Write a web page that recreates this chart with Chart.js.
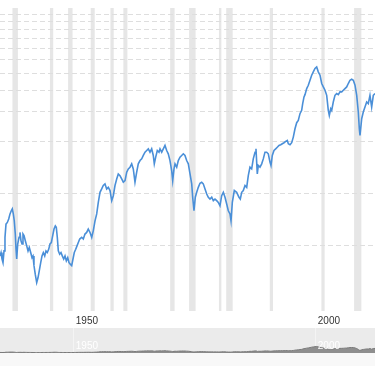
<!DOCTYPE html>
<html>
<head>
<meta charset="utf-8">
<script src="https://cdn.jsdelivr.net/npm/chart.js@4.4.1/dist/chart.umd.min.js"></script>
<style>
  html, body { margin: 0; padding: 0; background: #fff; }
  #main { position: absolute; left: 0; top: 0; width: 375px; height: 333px; z-index: 1; }
  #nav { position: absolute; left: 0; top: 328px; width: 375px; height: 25px; background: #ebebeb; z-index: 2; }
  #scroll { position: absolute; left: 0; top: 353px; width: 375px; height: 13px; background: #f8f8f8; z-index: 2; }
</style>
</head>
<body>
<div id="main"><canvas id="priceChart"></canvas></div>
<div id="nav"><canvas id="navChart"></canvas></div>
<div id="scroll"></div>
<script>
// S&P 500, inflation adjusted
const years = [
  1934.76,1934.97,1935.17,1935.38,1935.59,1935.79,1936.0,1936.27,1936.56,1936.83,
  1937.09,1937.3,1937.51,1937.71,1937.92,1938.07,1938.21,1938.42,1938.69,1938.89,
  1939.1,1939.31,1939.51,1939.72,1939.99,1940.28,1940.55,1940.81,1941.1,1941.37,
  1941.58,1941.78,1942.05,1942.34,1942.61,1942.88,1943.17,1943.44,1943.71,1944.0,
  1944.26,1944.53,1944.82,1945.09,1945.36,1945.65,1945.92,1946.19,1946.39,1946.6,
  1946.81,1947.09,1947.36,1947.63,1947.92,1948.19,1948.46,1948.75,1949.02,1949.28,
  1949.57,1949.84,1950.11,1950.4,1950.67,1950.94,1951.23,1951.64,1951.97,1952.32,
  1952.67,1953.0,1953.36,1953.71,1954.04,1954.39,1954.74,1955.07,1955.42,1955.77,
  1956.1,1956.45,1956.8,1957.14,1957.49,1957.84,1958.17,1958.52,1958.87,1959.2,
  1959.55,1959.9,1960.24,1960.59,1960.94,1961.27,1961.62,1961.97,1962.3,1962.65,
  1963.0,1963.33,1963.69,1964.04,1964.37,1964.72,1965.07,1965.4,1965.75,1966.1,
  1966.43,1966.64,1966.93,1967.26,1967.61,1967.82,1968.17,1968.5,1968.85,1969.2,
  1969.53,1969.88,1970.23,1970.44,1970.71,1970.92,1971.27,1971.6,1971.95,1972.3,
  1972.63,1972.98,1973.33,1973.67,1974.02,1974.37,1974.57,1974.84,1975.11,1975.4,
  1975.73,1976.08,1976.43,1976.76,1977.12,1977.47,1977.8,1978.15,1978.5,1978.83,
  1979.18,1979.53,1979.86,1980.21,1980.56,1980.9,1981.25,1981.6,1981.93,1982.28,
  1982.49,1982.76,1983.17,1983.66,1984.14,1984.41,1984.7,1985.03,1985.38,1985.73,
  1986.06,1986.41,1986.76,1987.09,1987.45,1987.65,1987.92,1988.13,1988.48,1988.83,
  1989.16,1989.51,1989.86,1990.19,1990.54,1990.75,1991.02,1991.37,1991.72,1992.05,
  1992.4,1992.76,1993.09,1993.44,1993.79,1994.12,1994.33,1994.68,1995.03,1995.36,
  1995.71,1996.06,1996.39,1996.74,1997.09,1997.3,1997.57,1997.78,1998.13,1998.46,
  1998.81,1999.16,1999.49,1999.84,2000.19,2000.52,2000.88,2001.23,2001.56,2001.91,
  2002.26,2002.59,2002.8,2003.09,2003.29,2003.62,2003.97,2004.32,2004.66,2005.01,
  2005.36,2005.69,2006.04,2006.39,2006.72,2007.07,2007.42,2007.76,2008.11,2008.46,
  2008.79,2009.0,2009.14,2009.49,2009.82,2010.17,2010.52,2010.85,2011.2,2011.55,
  2011.89,2012.24
];
const realPrice = [
  173,181,166,158,185,222,265,271,284,304,
  317,325,304,277,232,189,166,203,222,237,
  212,203,232,227,212,198,185,194,181,169,
  173,152,135,121,129,142,158,173,181,173,
  185,181,189,203,207,227,248,259,254,222,
  185,177,181,173,166,173,162,169,158,155,
  152,166,181,189,198,207,217,222,217,232,
  237,248,237,222,243,277,304,355,406,425,
  445,455,425,434,416,363,388,445,486,520,
  508,486,465,475,532,556,569,595,556,465,
  532,595,622,636,666,696,712,728,696,728,
  666,595,651,712,696,728,696,728,762,712,
  681,622,544,475,556,595,569,622,651,666,
  681,666,622,595,520,455,380,317,380,406,
  434,459,465,455,425,397,380,371,380,363,
  371,363,355,339,388,406,380,347,317,304,
  277,355,416,406,380,371,406,416,445,434,
  508,569,556,636,696,728,520,582,569,595,
  636,696,696,681,609,582,666,712,728,744,
  762,769,779,790,804,815,779,769,790,852,
  953,1034,1066,1167,1220,1335,1460,1507,1634,1709,
  1828,1955,2045,2139,2186,2045,1955,1749,1671,1598,
  1493,1220,1140,1248,1220,1365,1493,1528,1507,1563,
  1563,1598,1634,1671,1749,1828,1853,1828,1709,1493,
  1193,953,871,1090,1193,1275,1365,1335,1493,1275,
  1493,1528
];

// recessions (shaded)
const recessionStart = [1937.33,1945.08,1948.83,1953.5,1957.58,1960.25,1969.92,1973.83,1980.0,1981.5,1990.5,2001.17,2007.92];
const recessionEnd   = [1938.46,1945.75,1949.75,1954.33,1958.25,1961.08,1970.83,1975.17,1980.5,1982.83,1991.17,2001.83,2009.42];

const yearTicks = [1950, 2000];
const gridValues = [200, 400, 800, 1200, 1600, 2000, 2400, 2800, 3200, 3600, 4000, 4400];

const xMin = 1934.76, xMax = 2012.24;
const FONT = '"Liberation Sans", Arial, sans-serif';

const points = years.map((yr, i) => ({ x: yr, y: realPrice[i] }));

const recessionBands = {
  id: 'recessionBands',
  beforeDraw(chart) {
    const { ctx, chartArea, scales: { x } } = chart;
    ctx.save();
    ctx.fillStyle = '#e6e6e6';
    for (let i = 0; i < recessionStart.length; i++) {
      const x0 = x.getPixelForValue(recessionStart[i]);
      const x1 = x.getPixelForValue(recessionEnd[i]);
      ctx.fillRect(x0, chartArea.top, x1 - x0, chartArea.bottom - chartArea.top);
    }
    ctx.restore();
  }
};

const navLabels = {
  id: 'navLabels',
  afterDraw(chart) {
    const { ctx, scales: { x } } = chart;
    ctx.save();
    ctx.fillStyle = '#ffffff';
    ctx.font = '10px ' + FONT;
    ctx.textBaseline = 'middle';
    yearTicks.forEach(v => ctx.fillText(String(v), x.getPixelForValue(v) + 2, 18.5));
    ctx.restore();
  }
};

new Chart(document.getElementById('priceChart'), {
  type: 'line',
  data: {
    datasets: [{
      data: points,
      borderColor: '#4a8fd8',
      borderWidth: 1.6,
      pointRadius: 0,
      tension: 0,
      fill: false
    }]
  },
  options: {
    responsive: true,
    maintainAspectRatio: false,
    animation: false,
    devicePixelRatio: 1,
    layout: { padding: { top: 8, bottom: 2, left: 0, right: 0 } },
    plugins: { legend: { display: false }, tooltip: { enabled: false } },
    scales: {
      x: {
        type: 'linear',
        min: xMin,
        max: xMax,
        afterBuildTicks: s => { s.ticks = yearTicks.map(v => ({ value: v })); },
        grid: { display: false, drawTicks: false },
        border: { display: false },
        ticks: {
          align: 'start',
          labelOffset: 2,
          padding: 4,
          maxRotation: 0,
          autoSkip: false,
          color: '#333',
          font: { size: 10, family: FONT },
          callback: v => String(v)
        }
      },
      y: {
        type: 'logarithmic',
        min: 82.6,
        max: 4818,
        afterBuildTicks: s => { s.ticks = gridValues.map(v => ({ value: v })); },
        grid: { color: '#dedede', lineWidth: 1, drawTicks: false },
        border: { display: false, dash: [5, 3] },
        ticks: { display: false }
      }
    }
  },
  plugins: [recessionBands]
});

// navigator strip
new Chart(document.getElementById('navChart'), {
  type: 'line',
  data: {
    datasets: [{
      data: points,
      borderColor: '#7a7a7a',
      borderWidth: 1,
      backgroundColor: '#8e8e8e',
      fill: 'origin',
      pointRadius: 0,
      tension: 0
    }]
  },
  options: {
    responsive: true,
    maintainAspectRatio: false,
    animation: false,
    devicePixelRatio: 1,
    layout: { padding: 0 },
    plugins: { legend: { display: false }, tooltip: { enabled: false } },
    scales: {
      x: {
        type: 'linear',
        min: xMin,
        max: xMax,
        z: 1,
        afterBuildTicks: s => { s.ticks = yearTicks.map(v => ({ value: v })); },
        grid: { color: '#f4f4f4', drawTicks: false },
        border: { display: false },
        ticks: { display: false }
      },
      y: { display: false, min: 0, max: 8400 }
    }
  },
  plugins: [navLabels]
});
</script>
</body>
</html>
